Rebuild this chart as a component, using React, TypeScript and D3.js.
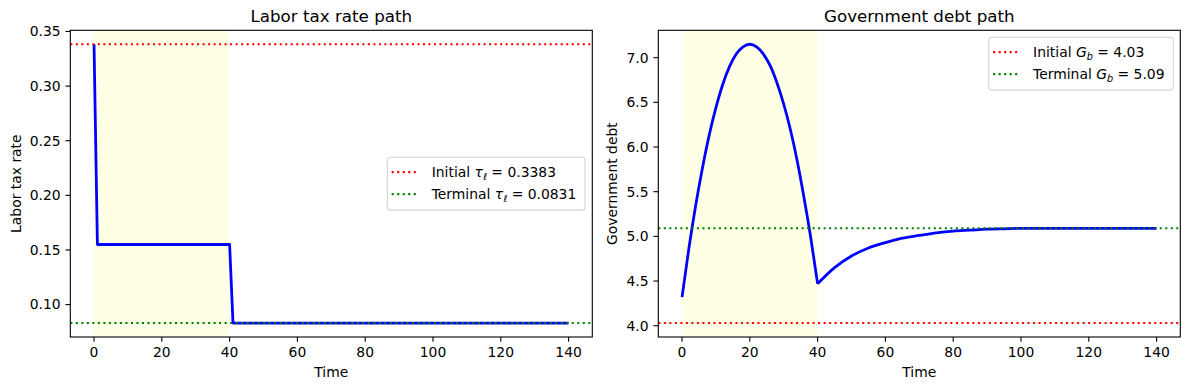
import * as d3 from 'd3';

// Labor tax rate path (piecewise: initial, transition phase, terminal)
const taxTime = [0, 1, 40, 41, 140];
const taxRate = [0.3383, 0.155, 0.155, 0.0831, 0.0831];
const taxInitial = 0.3383;
const taxTerminal = 0.0831;

// Government debt path
const debtTime = [
  0, 2, 4, 6, 8, 10, 12, 14, 16, 18, 20, 22, 24, 26, 28, 30, 32, 34, 36, 38, 40,
  45, 50, 55, 60, 65, 70, 75, 80, 85, 90, 95, 100, 110, 120, 130, 140,
];
const debtValue = [
  4.32, 4.86, 5.34, 5.76, 6.13, 6.44, 6.7, 6.9, 7.04, 7.12, 7.15, 7.12, 7.04,
  6.91, 6.72, 6.48, 6.19, 5.84, 5.43, 4.98, 4.47,
  4.65, 4.78, 4.87, 4.93, 4.98, 5.01, 5.04, 5.06, 5.07, 5.08, 5.085, 5.09,
  5.09, 5.09, 5.09, 5.09,
];
const debtInitial = 4.03;
const debtTerminal = 5.09;

const phaseStart = 0;
const phaseEnd = 40;
const xTicks = [0, 20, 40, 60, 80, 100, 120, 140];
const taxTicks = [0.1, 0.15, 0.2, 0.25, 0.3, 0.35];
const debtTicks = [4.0, 4.5, 5.0, 5.5, 6.0, 6.5, 7.0];

const WIDTH = 1189;
const HEIGHT = 390;
const TOP = 30.3;
const BOTTOM = 337;
const FONT = '"DejaVu Sans", sans-serif';
const TICK = 4.86;
const PAD = 4.86;

interface LegendSpec {
  left: number;
  top: number;
  width: number;
  labels: [React.ReactNode, React.ReactNode];
}

interface PanelProps {
  x0: number;
  x1: number;
  title: string;
  yLabel: string;
  yLabelGap: number;
  times: number[];
  values: number[];
  initial: number;
  terminal: number;
  yTicks: number[];
  yFormat: (v: number) => string;
  legend: LegendSpec;
}

function withMargin(lo: number, hi: number): [number, number] {
  const m = (hi - lo) * 0.05;
  return [lo - m, hi + m];
}

function Panel(p: PanelProps) {
  const xExt = d3.extent(p.times) as [number, number];
  const x = d3.scaleLinear().domain(withMargin(xExt[0], xExt[1])).range([p.x0, p.x1]);
  const yLo = Math.min(d3.min(p.values)!, p.initial, p.terminal);
  const yHi = Math.max(d3.max(p.values)!, p.initial, p.terminal);
  const y = d3.scaleLinear().domain(withMargin(yLo, yHi)).range([BOTTOM, TOP]);

  // split at the end of the phase so the kink stays sharp
  const split = p.times.indexOf(phaseEnd);
  const pts = p.times.map((t, i) => [t, p.values[i]] as [number, number]);
  const smooth = p.times.length > 6;
  const line = d3
    .line<[number, number]>()
    .x((d) => x(d[0]))
    .y((d) => y(d[1]))
    .curve(smooth ? d3.curveMonotoneX : d3.curveLinear);
  const segs = smooth && split > 0 ? [pts.slice(0, split + 1), pts.slice(split)] : [pts];

  const cx = (p.x0 + p.x1) / 2;
  const cy = (TOP + BOTTOM) / 2;
  const lg = p.legend;
  const rows = [
    { color: 'red', label: lg.labels[0], dy: 14.8 },
    { color: 'green', label: lg.labels[1], dy: 36.8 },
  ];

  return (
    <g>
      <rect
        x={x(phaseStart)}
        y={TOP}
        width={x(phaseEnd) - x(phaseStart)}
        height={BOTTOM - TOP}
        fill="yellow"
        fillOpacity={0.1}
      />
      {segs.map((s, i) => (
        <path
          key={i}
          d={line(s) ?? ''}
          fill="none"
          stroke="#0000ff"
          strokeWidth={2.78}
          strokeLinejoin="round"
        />
      ))}
      {[
        { v: p.initial, c: 'red' },
        { v: p.terminal, c: 'green' },
      ].map((h) => (
        <line
          key={h.c}
          x1={p.x0}
          x2={p.x1}
          y1={y(h.v)}
          y2={y(h.v)}
          stroke={h.c}
          strokeWidth={2.08}
          strokeDasharray="2.08 3.43"
        />
      ))}
      <rect
        x={p.x0}
        y={TOP}
        width={p.x1 - p.x0}
        height={BOTTOM - TOP}
        fill="none"
        stroke="#000"
        strokeWidth={1.1}
      />
      {xTicks.map((t) => (
        <g key={t} transform={`translate(${x(t)},${BOTTOM})`}>
          <line y2={TICK} stroke="#000" strokeWidth={1.1} />
          <text y={TICK + PAD} dy="0.71em" textAnchor="middle" fontSize={13.9}>
            {t}
          </text>
        </g>
      ))}
      {p.yTicks.map((t) => (
        <g key={t} transform={`translate(${p.x0},${y(t)})`}>
          <line x2={-TICK} stroke="#000" strokeWidth={1.1} />
          <text x={-(TICK + PAD)} dy="0.35em" textAnchor="end" fontSize={13.9}>
            {p.yFormat(t)}
          </text>
        </g>
      ))}
      <text x={cx} y={22} textAnchor="middle" fontSize={16.7}>
        {p.title}
      </text>
      <text x={cx} y={376.7} textAnchor="middle" fontSize={13.9}>
        Time
      </text>
      <text
        transform={`translate(${p.x0 - p.yLabelGap},${cy}) rotate(-90)`}
        textAnchor="middle"
        fontSize={13.9}
      >
        {p.yLabel}
      </text>
      <g transform={`translate(${lg.left},${lg.top})`}>
        <rect
          width={lg.width}
          height={52.8}
          rx={2.8}
          fill="#fff"
          fillOpacity={0.8}
          stroke="#d5d5d5"
          strokeWidth={1.1}
        />
        {rows.map((r) => (
          <g key={r.color}>
            <line
              x1={4.4}
              x2={32}
              y1={r.dy}
              y2={r.dy}
              stroke={r.color}
              strokeWidth={2.08}
              strokeDasharray="2.08 3.43"
            />
            <text x={44.4} y={r.dy} dy="0.36em" fontSize={13.9}>
              {r.label}
            </text>
          </g>
        ))}
      </g>
    </g>
  );
}

function Sub({ base, sub }: { base: string; sub: string }) {
  return (
    <>
      <tspan fontStyle="italic">{base}</tspan>
      <tspan fontStyle="italic" fontSize={9.7} dy={3}>
        {sub}
      </tspan>
      <tspan dy={-3}>{'\u00a0'}</tspan>
    </>
  );
}

export default function App() {
  return (
    <svg
      width={WIDTH}
      height={HEIGHT}
      viewBox={`0 0 ${WIDTH} ${HEIGHT}`}
      style={{ position: 'absolute', left: 0, top: 0, background: '#fff' }}
      fontFamily={FONT}
      fill="#000"
    >
      <rect width={WIDTH} height={HEIGHT} fill="#fff" />
      <Panel
        x0={70.3}
        x1={592.3}
        title="Labor tax rate path"
        yLabel="Labor tax rate"
        yLabelGap={49.6}
        times={taxTime}
        values={taxRate}
        initial={taxInitial}
        terminal={taxTerminal}
        yTicks={taxTicks}
        yFormat={d3.format('.2f')}
        legend={{
          left: 387.3,
          top: 157.3,
          width: 197.7,
          labels: [
            <>
              Initial <Sub base="τ" sub="ℓ" />= {taxInitial.toFixed(4)}
            </>,
            <>
              Terminal <Sub base="τ" sub="ℓ" />= {taxTerminal.toFixed(4)}
            </>,
          ],
        }}
      />
      <Panel
        x0={658.3}
        x1={1180.3}
        title="Government debt path"
        yLabel="Government debt"
        yLabelGap={41}
        times={debtTime}
        values={debtValue}
        initial={debtInitial}
        terminal={debtTerminal}
        yTicks={debtTicks}
        yFormat={d3.format('.1f')}
        legend={{
          left: 988.7,
          top: 37.3,
          width: 184.6,
          labels: [
            <>
              Initial <Sub base="G" sub="b" />= {debtInitial.toFixed(2)}
            </>,
            <>
              Terminal <Sub base="G" sub="b" />= {debtTerminal.toFixed(2)}
            </>,
          ],
        }}
      />
    </svg>
  );
}
